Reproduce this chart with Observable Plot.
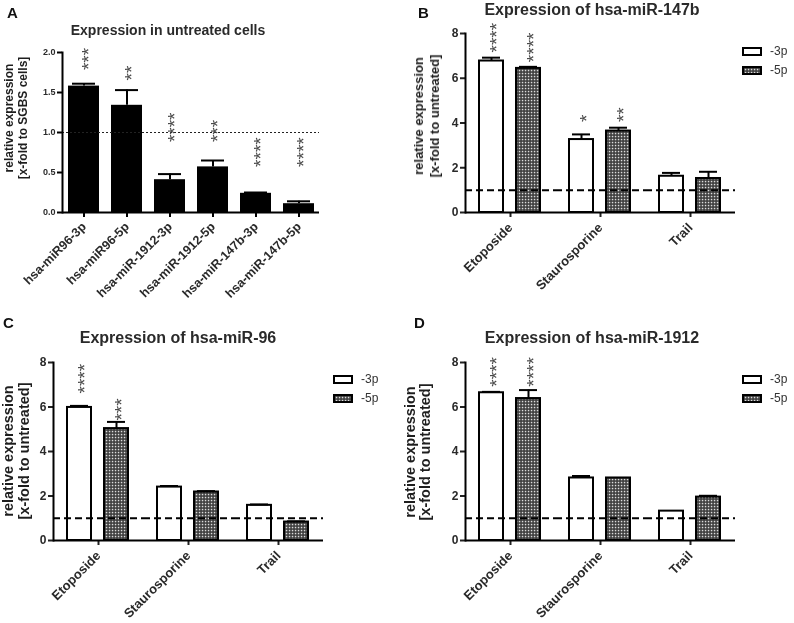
<!DOCTYPE html>
<html>
<head>
<meta charset="utf-8">
<script src="https://cdn.jsdelivr.net/npm/d3@7"></script>
<script src="https://cdn.jsdelivr.net/npm/@observablehq/plot@0.6"></script>
<style>
  body { margin: 0; background: #fff; }
  #root { position: relative; width: 794px; height: 623px; overflow: hidden; background: #fff;
          font-family: "Liberation Sans", Arial, sans-serif; color: #222; }
  .panel { position: absolute; will-change: transform; }
  .panel svg { background: transparent !important; overflow: visible; }
  .letter { position: absolute; font-weight: bold; font-size: 15px; line-height: 15px; color: #111; }
  .title { position: absolute; font-weight: bold; white-space: nowrap; color: #2a2a2a; transform: translateX(-50%); }
  .ylab { position: absolute; font-weight: bold; white-space: nowrap; text-align: center; color: #1e1e1e;
          transform: translate(-50%, -50%) rotate(-90deg); }
  .leg { position: absolute; font-size: 12px; line-height: 12px; color: #333; display: flex; align-items: center; }
  .leg .box { width: 16px; height: 5px; border: 2px solid #000; margin-right: 8px; }
  .panel g[aria-label$="tick label"] text { font-weight: bold; fill: #2a2a2a; }
  .panel g[aria-label$="-axis tick"] { stroke: #000; stroke-width: 2px; }
  #pA g[aria-label="y-axis tick label"] text { font-size: 9px; }
  #pA g[aria-label="x-axis tick label"] text { font-size: 12.5px; }
  .grp g[aria-label="y-axis tick label"] text { font-size: 12px; }
  .grp g[aria-label="fx-axis tick label"] text { font-size: 13px; }
</style>
</head>
<body>
<svg width="0" height="0" style="position:absolute">
  <defs>
    <pattern id="dots" width="3" height="3" patternUnits="userSpaceOnUse">
      <rect width="3" height="3" fill="#3a3a3a"></rect>
      <rect x="0.8" y="0.8" width="1.5" height="1.5" fill="#dcdcdc"></rect>
    </pattern>
  </defs>
</svg>
<div id="root"></div>
<script>
// ---------- Panel A data ----------
const aLabels = ["hsa-miR96-3p", "hsa-miR96-5p", "hsa-miR-1912-3p", "hsa-miR-1912-5p", "hsa-miR-147b-3p", "hsa-miR-147b-5p"];
const aValues = [1.58, 1.34, 0.41, 0.57, 0.24, 0.11];
const aErrors = [1.61, 1.53, 0.48, 0.65, 0.25, 0.14];
const aStars  = ["***", "**", "****", "***", "****", "****"];
const aStarY  = [1.78, 1.65, 0.88, 0.88, 0.57, 0.57];
const aTicks  = [0, 0.5, 1, 1.5, 2];

// ---------- Panels B-D shared ----------
const treatments = ["Etoposide", "Staurosporine", "Trail"];
const seriesNames = ["-3p", "-5p"];
const groupTicks = [0, 2, 4, 6, 8];

// Panel B: hsa-miR-147b
const b3Values = [6.77, 3.26, 1.62];
const b3Errors = [6.92, 3.49, 1.77];
const b5Values = [6.44, 3.64, 1.52];
const b5Errors = [6.51, 3.79, 1.82];
const b3Stars  = ["****", "*", ""];
const b5Stars  = ["****", "**", ""];
const b3StarY  = [7.15, 4.04, 0];
const b5StarY  = [6.72, 4.04, 0];

// Panel C: hsa-miR-96
const c3Values = [5.98, 2.40, 1.58];
const c3Errors = [6.05, 2.45, 1.62];
const c5Values = [5.03, 2.18, 0.83];
const c5Errors = [5.33, 2.22, 0.86];
const c3Stars  = ["****", "", ""];
const c5Stars  = ["***", "", ""];
const c3StarY  = [6.61, 0, 0];
const c5StarY  = [5.39, 0, 0];

// Panel D: hsa-miR-1912
const d3Values = [6.64, 2.81, 1.32];
const d3Errors = [6.68, 2.90, 1.32];
const d5Values = [6.38, 2.81, 1.95];
const d5Errors = [6.76, 2.81, 2.01];
const d3Stars  = ["****", "", ""];
const d5Stars  = ["****", "", ""];
const d3StarY  = [6.91, 0, 0];
const d5StarY  = [6.91, 0, 0];

const FONT = '"Liberation Sans", Arial, sans-serif';
const root = document.getElementById("root");

function place(el, id, left, top) {
  const div = document.createElement("div");
  div.className = "panel";
  div.id = id;
  div.style.left = left + "px";
  div.style.top = top + "px";
  div.appendChild(el);
  root.appendChild(div);
  return div;
}
function addHTML(cls, html, style) {
  const d = document.createElement("div");
  d.className = cls;
  d.innerHTML = html;
  Object.assign(d.style, style);
  root.appendChild(d);
  return d;
}
// significance stars: one rotated string per bar, stacked upward from starY
const STAR_SIZE = 19;
const starOpts = {text: "stars", rotate: -90, textAnchor: "start", lineAnchor: "middle",
                  fontSize: STAR_SIZE, dx: 5, fill: "#4a4a4a"};

// ---------- Panel A ----------
const aRows = aLabels.map((name, i) => ({name, value: aValues[i], err: aErrors[i], stars: aStars[i], starY: aStarY[i]}));
const plotA = Plot.plot({
  width: 400, height: 310,
  marginLeft: 62, marginRight: 81, marginTop: 52, marginBottom: 98,
  style: {fontFamily: FONT, background: "transparent"},
  x: {domain: aLabels, paddingInner: 0.28, paddingOuter: 0.12, tickRotate: -45, tickSize: 5, tickPadding: 7, label: null},
  y: {domain: [0, 2], ticks: aTicks, tickFormat: d3.format(".1f"), tickSize: 5, tickPadding: 2, label: null},
  marks: [
    Plot.barY(aRows, {x: "name", y: "value", fill: "#000"}),
    Plot.ruleX(aRows, {x: "name", y1: "value", y2: "err", stroke: "#000", strokeWidth: 2}),
    Plot.tickY(aRows, {x: "name", y: "err", stroke: "#000", strokeWidth: 2, insetLeft: 4, insetRight: 4}),
    Plot.ruleY([1], {stroke: "#222", strokeWidth: 1.2, strokeDasharray: "2,2"}),
    Plot.ruleY([0], {stroke: "#000", strokeWidth: 2}),
    Plot.frame({anchor: "left", stroke: "#000", strokeWidth: 2}),
    Plot.text(aRows, {x: "name", y: "starY", ...starOpts})
  ]
});
place(plotA, "pA", 0, 0);

// ---------- Panels B-D ----------
function rowsFor(v3, e3, v5, e5, s3, s5, y3, y5) {
  return treatments.flatMap((t, i) => [
    {treatment: t, series: seriesNames[0], value: v3[i], err: e3[i], stars: s3[i], starY: y3[i]},
    {treatment: t, series: seriesNames[1], value: v5[i], err: e5[i], stars: s5[i], starY: y5[i]}
  ]);
}
function groupedPlot(rows, o) {
  const withErr = rows.filter(d => d.err > d.value + 0.005);
  return Plot.plot({
    width: o.width, height: o.height,
    marginLeft: o.ml, marginRight: o.mr, marginTop: o.mt, marginBottom: o.mb,
    style: {fontFamily: FONT, background: "transparent"},
    fx: {domain: treatments, padding: 0, axis: "bottom", tickRotate: -45, tickSize: 5, tickPadding: 8, label: null},
    x: {domain: seriesNames, paddingInner: 0.34, paddingOuter: 0.36, axis: null},
    y: {domain: [0, 8], ticks: groupTicks, tickSize: 5, tickPadding: 2, label: null},
    marks: [
      Plot.barY(rows.filter(d => d.series === "-3p"), {fx: "treatment", x: "series", y: "value", fill: "#fff", stroke: "#000", strokeWidth: 2}),
      Plot.barY(rows.filter(d => d.series === "-5p"), {fx: "treatment", x: "series", y: "value", fill: "url(#dots)", stroke: "#000", strokeWidth: 2}),
      Plot.ruleX(withErr, {fx: "treatment", x: "series", y1: "value", y2: "err", stroke: "#000", strokeWidth: 2}),
      Plot.tickY(withErr, {fx: "treatment", x: "series", y: "err", stroke: "#000", strokeWidth: 2, insetLeft: 3, insetRight: 3}),
      Plot.ruleY([1], {stroke: "#000", strokeWidth: 2, strokeDasharray: "7,4"}),
      Plot.ruleY([0], {stroke: "#000", strokeWidth: 2}),
      Plot.frame({anchor: "left", facetAnchor: "left", stroke: "#000", strokeWidth: 2}),
      Plot.text(rows.filter(d => d.stars), {fx: "treatment", x: "series", y: "starY", ...starOpts})
    ]
  });
}

const plotB = groupedPlot(rowsFor(b3Values, b3Errors, b5Values, b5Errors, b3Stars, b5Stars, b3StarY, b5StarY),
  {width: 394, height: 310, ml: 64, mr: 59, mt: 33, mb: 98});
place(plotB, "pB", 400, 0).classList.add("grp");

const plotC = groupedPlot(rowsFor(c3Values, c3Errors, c5Values, c5Errors, c3Stars, c5Stars, c3StarY, c5StarY),
  {width: 400, height: 313, ml: 53, mr: 77, mt: 52, mb: 83});
place(plotC, "pC", 0, 310).classList.add("grp");

const plotD = groupedPlot(rowsFor(d3Values, d3Errors, d5Values, d5Errors, d3Stars, d5Stars, d3StarY, d5StarY),
  {width: 394, height: 313, ml: 64, mr: 59, mt: 52, mb: 83});
place(plotD, "pD", 400, 310).classList.add("grp");

// ---------- Titles, letters, axis labels, legends ----------
addHTML("letter", "A", {left: "7px", top: "5px"});
addHTML("letter", "B", {left: "418px", top: "5px"});
addHTML("letter", "C", {left: "3px", top: "315px"});
addHTML("letter", "D", {left: "414px", top: "315px"});

addHTML("title", "Expression in untreated cells", {left: "168px", top: "23px", fontSize: "14px", lineHeight: "14px"});
addHTML("title", "Expression of hsa-miR-147b", {left: "592px", top: "1.5px", fontSize: "16px", lineHeight: "16px"});
addHTML("title", "Expression of hsa-miR-96", {left: "178px", top: "330px", fontSize: "16px", lineHeight: "16px"});
addHTML("title", "Expression of hsa-miR-1912", {left: "592px", top: "330px", fontSize: "16px", lineHeight: "16px"});

addHTML("ylab", "relative expression<br>[x-fold to SGBS cells]", {left: "16px", top: "118px", fontSize: "12px", lineHeight: "13.5px"});
addHTML("ylab", "relative expression<br>[x-fold to untreated]", {left: "427px", top: "116px", fontSize: "13px", lineHeight: "16px"});
addHTML("ylab", "relative expression<br>[x-fold to untreated]", {left: "16px", top: "451px", fontSize: "14.5px", lineHeight: "16px"});
addHTML("ylab", "relative expression<br>[x-fold to untreated]", {left: "418px", top: "452px", fontSize: "14.5px", lineHeight: "15px"});

function legend(x, y3, y5) {
  addHTML("leg", '<div class="box" style="background:#fff"></div>-3p', {left: x + "px", top: (y3 - 6) + "px"});
  addHTML("leg", '<div class="box" style="background:url(\'data:image/svg+xml;utf8,<svg xmlns=%22http://www.w3.org/2000/svg%22 width=%223%22 height=%223%22><rect width=%223%22 height=%223%22 fill=%22%233a3a3a%22/><rect x=%220.8%22 y=%220.8%22 width=%221.5%22 height=%221.5%22 fill=%22%23dcdcdc%22/></svg>\')"></div>-5p', {left: x + "px", top: (y5 - 6) + "px"});
}
legend(742, 51, 70);
legend(333, 379, 398);
legend(742, 379, 398);
</script>
</body>
</html>
